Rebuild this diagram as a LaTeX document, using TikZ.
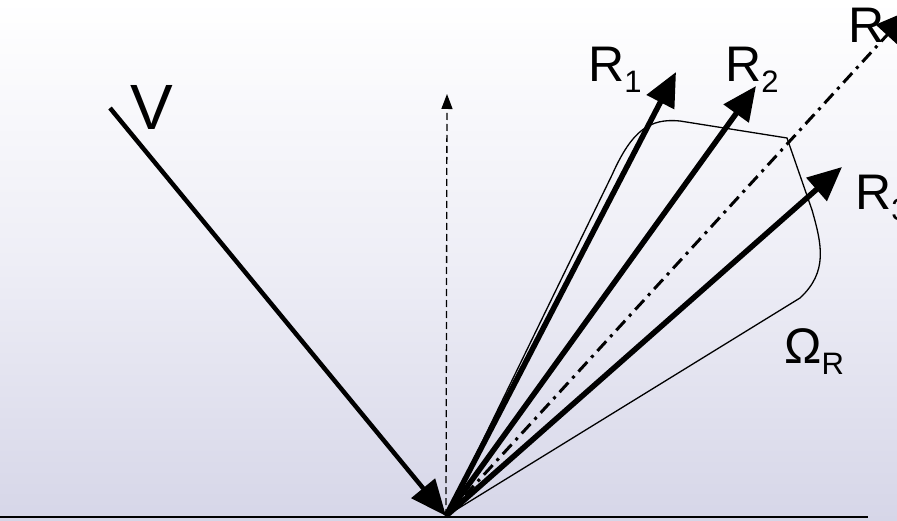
\documentclass[tikz,border=0pt]{standalone}
\usepackage{fontspec}
\setmainfont{Liberation Sans}
\usetikzlibrary{arrows.meta}
\tikzset{
  ray/.style={line width=5.5pt,-{Triangle[length=34pt,width=30pt]}},
  lab/.style={inner sep=0pt,anchor=base west,font=\fontsize{50}{50}\selectfont},
}
\newcommand{\subl}[1]{\raisebox{-11pt}{\fontsize{31}{31}\selectfont #1}}
\begin{document}
\begin{tikzpicture}[x=1pt,y=-1pt]
\useasboundingbox (0,0) rectangle (897,521);
\clip (0,0) rectangle (897,521);
\shade[top color=white, bottom color={rgb,255:red,214;green,214;blue,232}, middle color={rgb,255:red,238;green,238;blue,246}] (0,0) rectangle (897,521);
\coordinate (O) at (446,516);
\coordinate (Vs) at (110,108);
\coordinate (N) at (447,94);
\coordinate (R1) at (676,72);
\coordinate (R2) at (756,86);
\coordinate (R3) at (842,167);
\coordinate (Rs) at (910,10);
% ground
\draw[line width=1.6pt] (0,517) -- (868,517);
% solid angle region
\draw[line width=1.3pt] (O) -- (612,175) .. controls (632,130) and (650,118) .. (680,121) -- (787,138) -- (812,210) .. controls (822,245) and (828,272) .. (800,298) -- cycle;
% normal
\draw[line width=1.3pt, dash pattern=on 7pt off 4pt, -{Triangle[length=15pt,width=11pt]}] (O) -- (N);
% incident
\draw[line width=4.5pt, -{Triangle[length=36pt,width=30pt]}] (Vs) -- (O);
% specular direction
\draw[line width=3pt, dash pattern=on 13pt off 6pt on 3pt off 6pt, -{Triangle[length=34pt,width=30pt]}] (O) -- (Rs);
\draw[ray] (O) -- (R1);
\draw[ray] (O) -- (R2);
\draw[ray] (O) -- (R3);
% labels
\node[lab, font=\fontsize{64}{64}\selectfont] (lV) at (130,130) {V};
\node[lab] (lR1) at (588,82) {R\subl{1}};
\node[lab] (lR2) at (725,82) {R\subl{2}};
\node[lab] (lR) at (848,43) {R\subl{}};
\node[lab] (lR3) at (855,210) {R\subl{3}};
\node[lab] (lO) at (784,363) {Ω\subl{R}};
\end{tikzpicture}
\end{document}
